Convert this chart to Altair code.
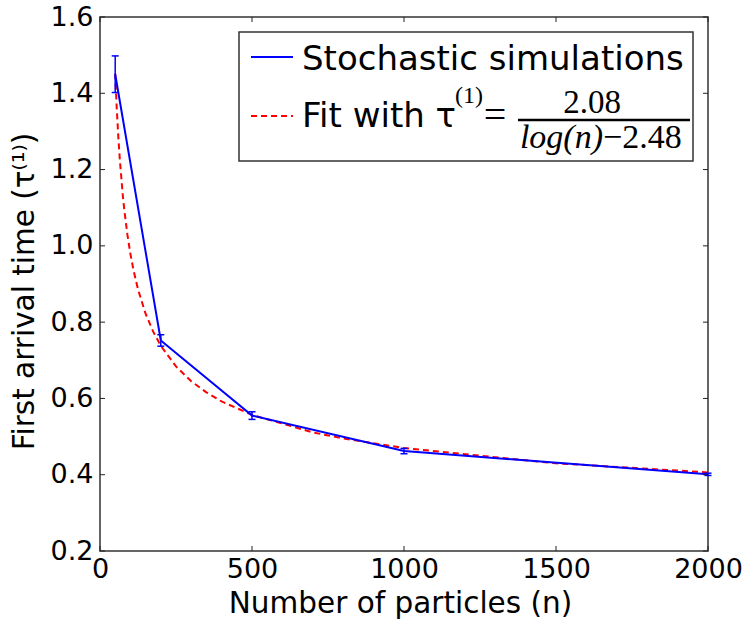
import altair as alt
import pandas as pd

# ---- data ----
sim_n = [50, 200, 500, 1000, 2000]
sim_tau = [1.450, 0.752, 0.555, 0.462, 0.401]
sim_err = [0.048, 0.015, 0.010, 0.007, 0.003]

fit_n = [50, 55, 60, 65, 75, 80, 90, 100, 110, 125, 150, 175, 200, 250, 300, 350,
         400, 500, 700, 800, 1000, 1500, 2000]
fit_tau = [1.452, 1.362, 1.289, 1.228, 1.132, 1.094, 1.030, 0.979, 0.937, 0.886,
           0.822, 0.775, 0.738, 0.684, 0.645, 0.616, 0.592, 0.557, 0.511, 0.495,
           0.470, 0.430, 0.406]

x_ticks = [0, 500, 1000, 1500, 2000]
y_ticks = [0.2, 0.4, 0.6, 0.8, 1.0, 1.2, 1.4, 1.6]

W, H = 608, 534
SANS = "DejaVu Sans"
SERIF = "Liberation Serif"

sim = pd.DataFrame({"n": sim_n, "tau": sim_tau, "err": sim_err})
sim["lo"] = sim["tau"] - sim["err"]
sim["hi"] = sim["tau"] + sim["err"]
fit = pd.DataFrame({"n": fit_n, "tau": fit_tau})
xt = pd.DataFrame({"t": x_ticks})
yt = pd.DataFrame({"t": y_ticks})
one = pd.DataFrame({"k": [0]})

xscale = alt.Scale(domain=[0, 2000], nice=False, zero=False)
yscale = alt.Scale(domain=[0.2, 1.6], nice=False, zero=False)

xaxis = alt.Axis(values=x_ticks, format="d", grid=False, domain=False, ticks=False,
                 labelFontSize=27, labelFont=SANS, labelColor="black",
                 labelBaseline="alphabetic", labelPadding=26,
                 labelFlush=False, labelOverlap=False,
                 title="Number of particles (n)", titleFont=SANS, titleFontSize=29.5,
                 titleFontWeight="normal", titleColor="black",
                 titleX=300, titleY=61, titleAlign="center", titleBaseline="alphabetic")
yaxis = alt.Axis(values=y_ticks, format=".1f", grid=False, domain=False, ticks=False,
                 labelFontSize=27, labelFont=SANS, labelColor="black",
                 labelPadding=7, labelBaseline="middle",
                 labelFlush=False, labelOverlap=False,
                 title="First arrival time (τ⁽¹⁾)", titleFont=SANS, titleFontSize=29.5,
                 titleFontWeight="normal", titleColor="black",
                 titleX=-67, titleY=274, titleAlign="center", titleBaseline="alphabetic")

base_x = alt.X("n:Q", scale=xscale, axis=xaxis)
base_y = alt.Y("tau:Q", scale=yscale, axis=yaxis)

fit_line = alt.Chart(fit).mark_line(color="#ff0000", strokeWidth=2, strokeDash=[6, 4]).encode(
    x=base_x, y=base_y)
sim_line = alt.Chart(sim).mark_line(color="#0000ff", strokeWidth=2).encode(
    x=alt.X("n:Q", scale=xscale), y=alt.Y("tau:Q", scale=yscale))
err = alt.Chart(sim).mark_rule(color="#0000ff", strokeWidth=1.5).encode(
    x=alt.X("n:Q", scale=xscale), y=alt.Y("lo:Q", scale=yscale), y2="hi:Q")
cap_hi = alt.Chart(sim).mark_rule(color="#0000ff", strokeWidth=1.5, xOffset=-3.5, x2Offset=3.5).encode(
    x=alt.X("n:Q", scale=xscale), x2="n:Q", y=alt.Y("hi:Q", scale=yscale))
cap_lo = alt.Chart(sim).mark_rule(color="#0000ff", strokeWidth=1.5, xOffset=-3.5, x2Offset=3.5).encode(
    x=alt.X("n:Q", scale=xscale), x2="n:Q", y=alt.Y("lo:Q", scale=yscale))

TL = 5
tick_col = "#222222"
xt_b = alt.Chart(xt).mark_rule(color=tick_col, strokeWidth=1).encode(
    x=alt.X("t:Q", scale=xscale), y=alt.value(H), y2=alt.value(H - TL))
xt_t = alt.Chart(xt).mark_rule(color=tick_col, strokeWidth=1).encode(
    x=alt.X("t:Q", scale=xscale), y=alt.value(0), y2=alt.value(TL))
yt_l = alt.Chart(yt).mark_rule(color=tick_col, strokeWidth=1).encode(
    y=alt.Y("t:Q", scale=yscale), x=alt.value(0), x2=alt.value(TL))
yt_r = alt.Chart(yt).mark_rule(color=tick_col, strokeWidth=1).encode(
    y=alt.Y("t:Q", scale=yscale), x=alt.value(W), x2=alt.value(W - TL))

# ---- legend (drawn by hand for the math) ----
leg_box = alt.Chart(one).mark_rect(fill="white", stroke="#333333", strokeWidth=1.5).encode(
    x=alt.value(139), x2=alt.value(593), y=alt.value(15), y2=alt.value(144))
leg_blue = alt.Chart(one).mark_rule(color="#0000ff", strokeWidth=2).encode(
    x=alt.value(151), x2=alt.value(193), y=alt.value(40))
leg_red = alt.Chart(one).mark_rule(color="#ff0000", strokeWidth=2, strokeDash=[6, 4]).encode(
    x=alt.value(151), x2=alt.value(193), y=alt.value(99))


def txt(s, x, y, size, font=SANS, align="left", style="normal"):
    return alt.Chart(one).mark_text(text=s, font=font, fontSize=size, align=align,
                                    baseline="alphabetic", fontStyle=style,
                                    color="black").encode(x=alt.value(x), y=alt.value(y))


t1 = txt("Stochastic simulations", 202, 53, 34)
t2 = txt("Fit with τ", 202, 110, 34)
t_sup = txt("(1)", 355, 86, 24, font=SERIF)
t_eq = txt("=", 395, 111, 40, font=SERIF, align="center")
t_num = txt("2.08", 492, 96, 33, font=SERIF, align="center")
frac = alt.Chart(one).mark_rule(color="black", strokeWidth=2.5).encode(
    x=alt.value(418), x2=alt.value(590), y=alt.value(103))
t_den1 = txt("log(n)", 503, 131, 34, font=SERIF, align="right", style="italic")
t_den2 = txt("−2.48", 503, 131, 34, font=SERIF, align="left")

chart = alt.layer(
    fit_line, sim_line, err, cap_hi, cap_lo,
    xt_b, xt_t, yt_l, yt_r,
    leg_box, leg_blue, leg_red, t1, t2, t_sup, t_eq, t_num, frac, t_den1, t_den2,
).properties(
    width=W, height=H,
    autosize=alt.AutoSizeParams(type="none"),
    padding={"left": 100, "top": 17, "right": 39, "bottom": 69},
    background="white",
).configure_view(stroke="#333333", strokeWidth=1.5)

chart.save("out.html", embed_options={"renderer": "svg", "actions": False})
